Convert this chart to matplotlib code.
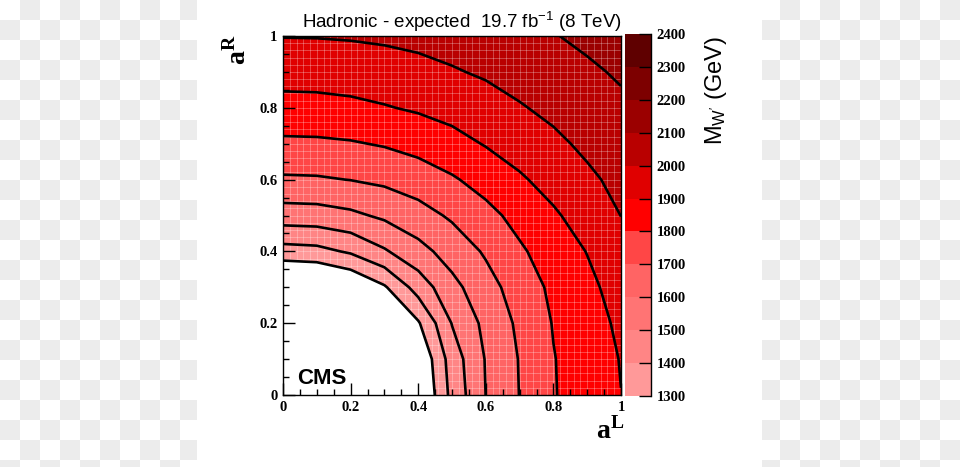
import numpy as np
import matplotlib
matplotlib.use("Agg")
import matplotlib.pyplot as plt
from matplotlib.colors import ListedColormap, BoundaryNorm
from matplotlib.patches import Rectangle

plt.rcParams['mathtext.fontset'] = 'custom'
plt.rcParams['mathtext.rm'] = 'Liberation Sans'
plt.rcParams['mathtext.it'] = 'Liberation Sans:italic'
plt.rcParams['mathtext.bf'] = 'Liberation Serif:bold'
plt.rcParams['mathtext.sf'] = 'Liberation Sans'

# ---- data ----
aL = [0.0, 0.1, 0.2, 0.3, 0.4, 0.5, 0.6, 0.7, 0.8, 0.9, 1.0]
aR = [0.0, 0.1, 0.2, 0.3, 0.4, 0.5, 0.6, 0.7, 0.8, 0.9, 1.0]
# expected M_W' limit (GeV); one row per aR value, columns follow aL
mw_aR00 = [1000, 1000, 1000, 1000, 1175, 1430, 1601, 1702, 1794, 1848, 1899]
mw_aR01 = [1000, 1000, 1000, 1000, 1200, 1447, 1606, 1705, 1796, 1850, 1904]
mw_aR02 = [1000, 1000, 1000, 1105, 1289, 1504, 1626, 1719, 1805, 1859, 1918]
mw_aR03 = [1125, 1138, 1191, 1288, 1442, 1571, 1662, 1746, 1820, 1876, 1940]
mw_aR04 = [1360, 1370, 1413, 1489, 1567, 1641, 1712, 1786, 1847, 1903, 1968]
mw_aR05 = [1553, 1558, 1580, 1617, 1662, 1714, 1771, 1831, 1887, 1942, 2001]
mw_aR06 = [1687, 1690, 1702, 1720, 1749, 1789, 1837, 1888, 1934, 1983, 2024]
mw_aR07 = [1782, 1784, 1792, 1808, 1833, 1867, 1906, 1941, 1981, 2018, 2050]
mw_aR08 = [1867, 1869, 1878, 1894, 1912, 1934, 1961, 1993, 2021, 2049, 2080]
mw_aR09 = [1939, 1941, 1947, 1957, 1972, 1992, 2012, 2034, 2057, 2083, 2113]
mw_aR10 = [2003, 2004, 2008, 2015, 2025, 2038, 2054, 2074, 2095, 2122, 2151]
levels = [1300, 1400, 1500, 1600, 1700, 1800, 1900, 2000, 2100, 2200, 2300, 2400]
level_labels = ['1300', '1400', '1500', '1600', '1700', '1800', '1900', '2000', '2100', '2200', '2300', '2400']
tick_vals = [0, 0.2, 0.4, 0.6, 0.8, 1]
tick_labels = ['0', '0.2', '0.4', '0.6', '0.8', '1']

M = np.array([mw_aR00, mw_aR01, mw_aR02, mw_aR03, mw_aR04, mw_aR05,
              mw_aR06, mw_aR07, mw_aR08, mw_aR09, mw_aR10], dtype=float)

colors = ['#ff9999', '#ff8585', '#ff7474', '#ff6464', '#ff4646', '#ff0000',
          '#e00000', '#b90000', '#9b0000', '#7d0000', '#5f0000']

W, H = 960, 467
fig = plt.figure(figsize=(W/100, H/100), dpi=100)
fig.patch.set_facecolor('white')

def fr(x0, y0, x1, y1):
    return [x0/W, 1-y1/H, (x1-x0)/W, (y1-y0)/H]

# checkerboard backdrop outside the white panel
for ix in range(0, 48):
    for iy in range(0, 24):
        x0 = ix*20
        if (ix+iy) % 2 == 1 and (x0 < 197 or x0+20 > 762):
            xs, xe = x0, x0+20
            if xs < 197 < xe:
                xe = 197
            if xs < 762 < xe:
                xs = 762
            fig.patches.append(Rectangle((xs/W, 1-(iy*20+20)/H), (xe-xs)/W, 20/H,
                               transform=fig.transFigure, facecolor='#ececec',
                               edgecolor='none', zorder=-5))

ax = fig.add_axes(fr(283, 36, 621, 395))
cmap = ListedColormap(colors)
norm = BoundaryNorm(levels, cmap.N)
cf = ax.contourf(aL, aR, M, levels=levels, cmap=cmap, norm=norm, zorder=1)
for v in np.arange(0.02, 1.0, 0.02):
    ax.axvline(v, color='white', alpha=0.28, lw=0.7, zorder=1.5)
    ax.axhline(v, color='white', alpha=0.28, lw=0.7, zorder=1.5)
ax.contour(aL, aR, M, levels=levels, colors='black', linewidths=1.9, zorder=3)
ax.set_xlim(0, 1)
ax.set_ylim(0, 1)
ax.set_xticks(tick_vals, tick_labels)
ax.set_yticks(tick_vals, tick_labels)
ax.set_xticks(np.arange(0, 1.0001, 0.05), minor=True)
ax.set_yticks(np.arange(0, 1.0001, 0.05), minor=True)
ax.tick_params(which='major', direction='in', length=8.5, width=1.0, top=False, right=False, pad=4)
ax.tick_params(which='minor', direction='in', length=4.3, width=1.0, top=False, right=False)
for lab in ax.get_xticklabels() + ax.get_yticklabels():
    lab.set_fontfamily('Liberation Serif')
    lab.set_fontweight('bold')
    lab.set_fontsize(10.5)
for s in ax.spines.values():
    s.set_linewidth(1.0)
ax.text(0.042, 0.03, 'CMS', fontfamily='Liberation Sans', fontweight='bold', fontsize=16, zorder=5)

cax = fig.add_axes(fr(625, 34, 651, 396))
cb = fig.colorbar(cf, cax=cax, ticks=levels)
cb.outline.set_visible(False)
cax.tick_params(direction='in', length=8.5, width=1.0, right=True, left=False, pad=4)
cax.set_yticklabels(level_labels)
for lab in cax.get_yticklabels():
    lab.set_fontfamily('Liberation Serif')
    lab.set_fontweight('bold')
    lab.set_fontsize(10.5)
cax.plot([1, 1], [0, 1], transform=cax.transAxes, color='black', lw=1.0, clip_on=False)

fig.text(462/W, 1-28/H, r'Hadronic - expected  19.7 fb$^{-1}$ (8 TeV)', ha='center', va='baseline',
         fontfamily='Liberation Sans', fontsize=13.5)
fig.text(610/W, 1-431/H, r'$\mathbf{a}^{\mathbf{L}}$', ha='center', va='center', fontsize=20)
fig.text(238/W, 1-50/H, r'$\mathbf{a}^{\mathbf{R}}$', ha='center', va='center', fontsize=20, rotation=90)
fig.text(716/W, 1-90/H, r"M$_{\mathrm{W'}}$ (GeV)", ha='center', va='center', fontsize=17,
         fontfamily='Liberation Sans', rotation=90)

fig.savefig('out.png', dpi=100)
